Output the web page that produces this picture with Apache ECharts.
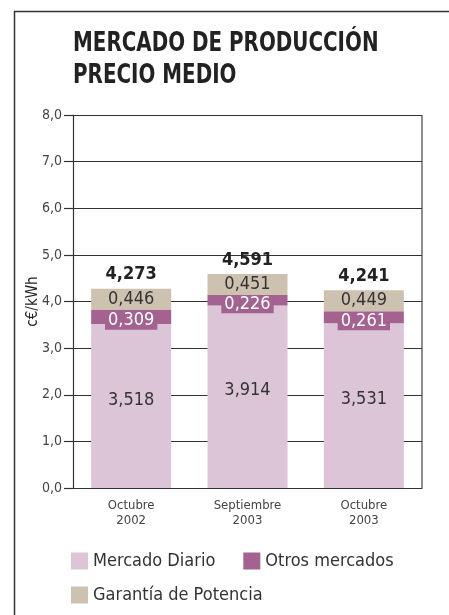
<!DOCTYPE html>
<html><head><meta charset="utf-8">
<script src="https://cdn.jsdelivr.net/npm/echarts@6/dist/echarts.min.js"></script>
<style>html,body{margin:0;padding:0;background:#fff}#c{width:449px;height:615px}</style>
</head><body><div id="c"></div>
<script>
const categories = ['Octubre\n2002', 'Septiembre\n2003', 'Octubre\n2003'];
const mercadoDiario = [3.518, 3.914, 3.531];
const otrosMercados = [0.309, 0.226, 0.261];
const garantiaPotencia = [0.446, 0.451, 0.449];
const totals = [4.273, 4.591, 4.241];

const FONT = '"Liberation Sans Narrow", "Arial Narrow", "DejaVu Sans Condensed", sans-serif';
const fmt = (v, d) => v.toFixed(d).replace('.', ',');

const chart = echarts.init(document.getElementById('c'), null, {renderer: 'canvas'});
chart.setOption({
  animation: false,
  textStyle: {fontFamily: FONT},
  graphic: [
    {type: 'line', shape: {x1: 14.5, y1: 11, x2: 14.5, y2: 615}, style: {stroke: '#333', lineWidth: 1.5}},
    {type: 'line', shape: {x1: 14, y1: 11.5, x2: 449, y2: 11.5}, style: {stroke: '#333', lineWidth: 1.5}},
    {type: 'text', x: 73, y: 28, scaleX: 0.85, style: {text: 'MERCADO DE PRODUCCIÓN\nPRECIO MEDIO', font: 'bold 26px ' + FONT, fill: '#222', lineHeight: 32}},
    {type: 'line', shape: {x1: 422, y1: 115, x2: 422, y2: 488}, style: {stroke: '#444', lineWidth: 1.2}}
  ],
  grid: {left: 73, right: 27, top: 115, bottom: 127, containLabel: false},
  legend: [
    {data: ['Mercado Diario', 'Otros mercados'], left: 66, top: 547, itemWidth: 17, itemHeight: 17, itemGap: 28,
     textStyle: {fontFamily: FONT, fontSize: 18, color: '#333'}, icon: 'rect', selectedMode: false},
    {data: ['Garantía de Potencia'], left: 66, top: 581, itemWidth: 17, itemHeight: 17,
     textStyle: {fontFamily: FONT, fontSize: 18, color: '#333'}, icon: 'rect', selectedMode: false}
  ],
  xAxis: {
    type: 'category', data: categories,
    axisLine: {lineStyle: {color: '#333', width: 1.2}},
    axisTick: {show: false},
    axisLabel: {fontFamily: FONT, fontSize: 13, color: '#444', lineHeight: 15, margin: 10}
  },
  yAxis: {
    type: 'value', min: 0, max: 8, interval: 1,
    name: 'c€/kWh', nameLocation: 'middle', nameGap: 32, nameRotate: 90, nameMoveOverlap: false,
    nameTextStyle: {fontFamily: FONT, fontSize: 15, color: '#222'},
    axisLine: {show: true, lineStyle: {color: '#333', width: 1.2}},
    axisTick: {show: true, length: 9, lineStyle: {color: '#333', width: 1.2}},
    axisLabel: {fontFamily: FONT, fontSize: 14, color: '#444', margin: 11, formatter: v => fmt(v, 1)},
    splitLine: {show: true, lineStyle: {color: '#333', width: 1.2}}
  },
  series: [
    {name: 'Mercado Diario', type: 'bar', stack: 't', barWidth: 80, data: mercadoDiario,
     itemStyle: {color: '#dbc5d7'},
     label: {show: true, position: 'inside', offset: [0, -6], formatter: p => fmt(p.value, 3), fontFamily: FONT, fontSize: 18, color: '#333'}},
    {name: 'Otros mercados', type: 'bar', stack: 't', barWidth: 80, data: otrosMercados,
     itemStyle: {color: '#a3628f'},
     label: {show: true, position: 'inside', offset: [0, 4], formatter: p => fmt(p.value, 3), fontFamily: FONT, fontSize: 18, color: '#fff',
             backgroundColor: '#a3628f', padding: [0, 3, 0, 3], lineHeight: 18}},
    {name: 'Garantía de Potencia', type: 'bar', stack: 't', barWidth: 80, data: garantiaPotencia,
     itemStyle: {color: '#cdc2b0'},
     label: {show: true, position: 'inside', offset: [0, 0], formatter: p => fmt(p.value, 3), fontFamily: FONT, fontSize: 18, color: '#333'}},
    {name: 'Total', type: 'bar', stack: 't', barWidth: 80, data: totals.map(() => 0),
     itemStyle: {color: 'transparent'},
     label: {show: true, position: 'top', distance: 5, formatter: p => fmt(totals[p.dataIndex], 3), fontFamily: FONT, fontSize: 18, fontWeight: 'bold', color: '#222'}}
  ]
});
</script></body></html>
